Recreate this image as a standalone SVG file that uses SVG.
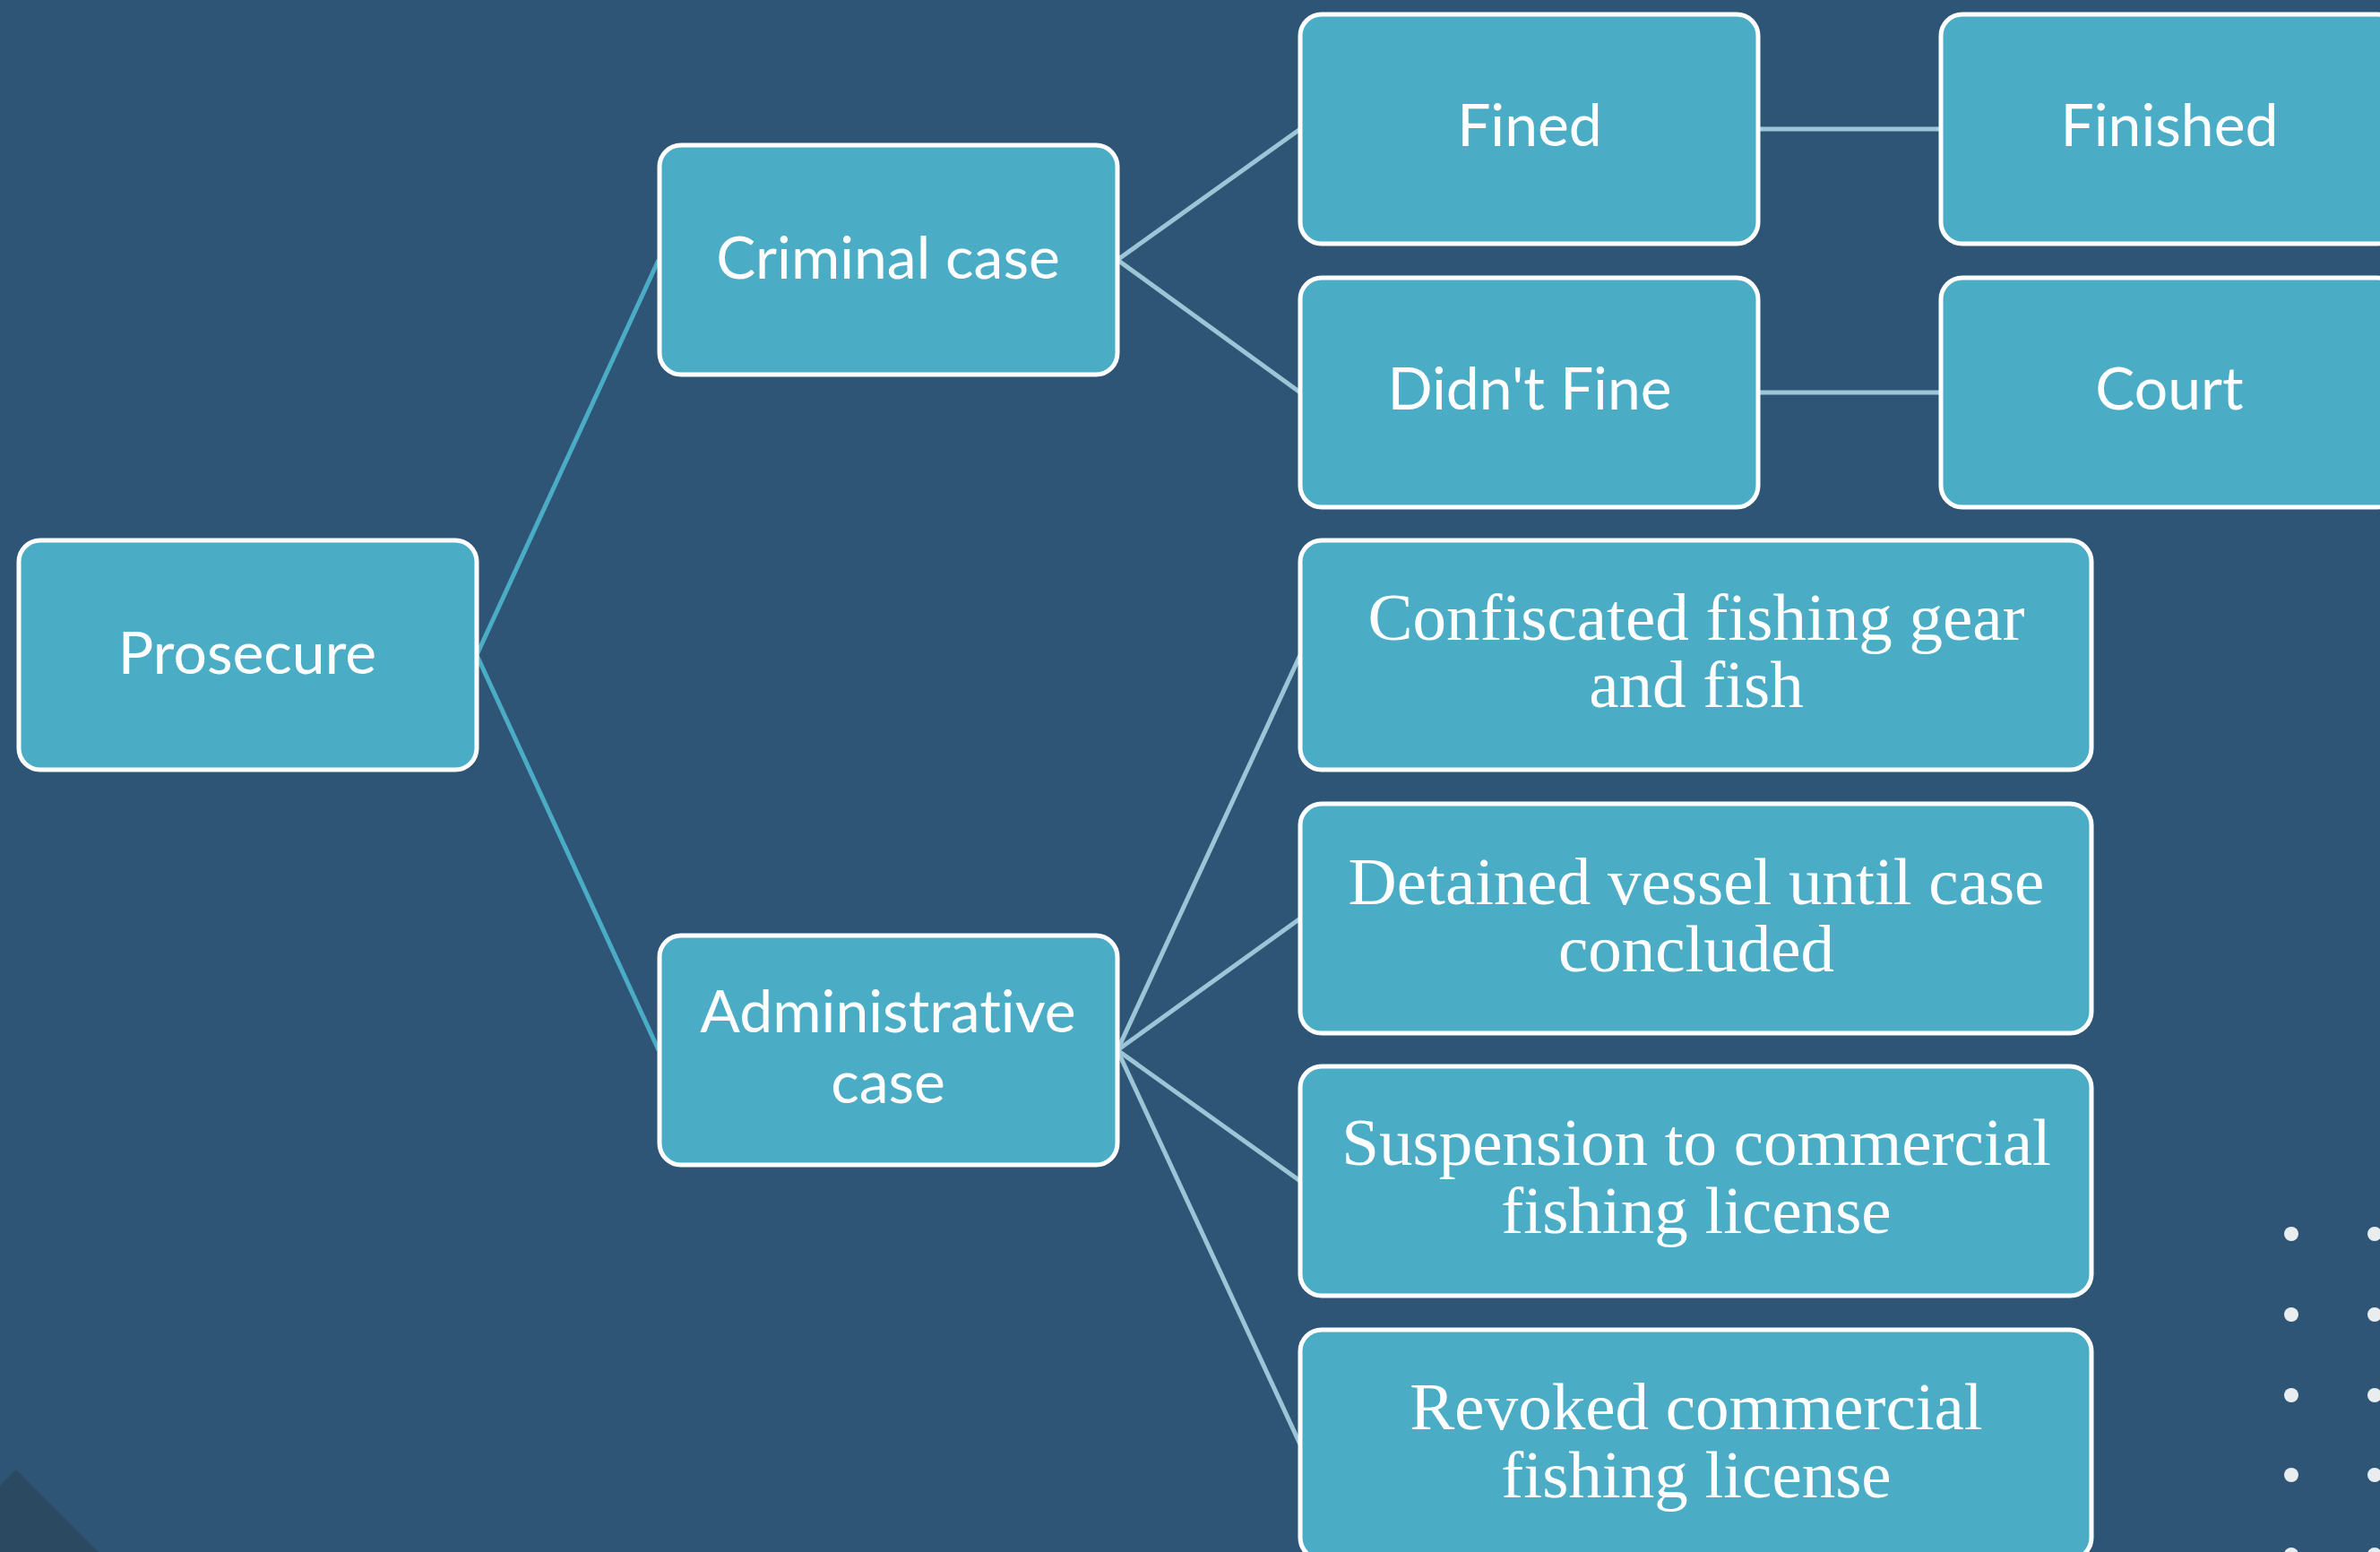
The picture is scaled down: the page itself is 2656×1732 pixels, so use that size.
<svg xmlns="http://www.w3.org/2000/svg" width="2656" height="1732" viewBox="0 0 2656 1732">
<style>
.box{fill:#4BACC6;stroke:#FFFFFF;stroke-width:5}
.sans{font-family:Lato,"Open Sans","Liberation Sans",sans-serif;font-size:66px;fill:#FFFFFF;text-anchor:middle;font-variant-ligatures:none}
.serif{font-family:"Liberation Serif","DejaVu Serif",serif;font-size:75px;fill:#FFFFFF;text-anchor:middle}
.c1{stroke:#4BACC6;stroke-width:5;fill:none}
.c2{stroke:#9CC6D8;stroke-width:5;fill:none}
.dot{fill:#E9EDEF}
</style>
<rect x="0" y="0" width="2656" height="1732" fill="#2E5575"/>
<polygon points="0,1658 18,1640 110,1732 0,1732" fill="#2B4A62"/>
<g id="dots">
<circle class="dot" cx="2557" cy="1377" r="8"/>
<circle class="dot" cx="2650" cy="1377" r="8"/>
<circle class="dot" cx="2557" cy="1467" r="8"/>
<circle class="dot" cx="2650" cy="1467" r="8"/>
<circle class="dot" cx="2557" cy="1557" r="8"/>
<circle class="dot" cx="2650" cy="1557" r="8"/>
<circle class="dot" cx="2557" cy="1646" r="8"/>
<circle class="dot" cx="2650" cy="1646" r="8"/>
<circle class="dot" cx="2557" cy="1735" r="8"/>
<circle class="dot" cx="2650" cy="1735" r="8"/>
</g>
<g id="connectors">
<line class="c1" x1="532" y1="731" x2="735" y2="290"/>
<line class="c1" x1="532" y1="731" x2="735" y2="1172"/>
<line class="c2" x1="1247" y1="290" x2="1451" y2="144"/>
<line class="c2" x1="1247" y1="290" x2="1451" y2="438"/>
<line class="c2" x1="1962" y1="144" x2="2166" y2="144"/>
<line class="c2" x1="1962" y1="438" x2="2166" y2="438"/>
<line class="c2" x1="1247" y1="1172" x2="1451" y2="731"/>
<line class="c2" x1="1247" y1="1172" x2="1451" y2="1025"/>
<line class="c2" x1="1247" y1="1172" x2="1451" y2="1318"/>
<line class="c2" x1="1247" y1="1172" x2="1451" y2="1612"/>
</g>
<g id="prosecure">
<rect class="box" x="21" y="603" width="511" height="256" rx="24"/>
<text class="sans" x="276" y="752">Prosecure</text>
</g>
<g id="criminal">
<rect class="box" x="736" y="162" width="511" height="256" rx="24"/>
<text class="sans" x="991" y="311">Criminal case</text>
</g>
<g id="administrative">
<rect class="box" x="736" y="1044" width="511" height="256" rx="24"/>
<text class="sans" x="991" y="1152">Administrative</text>
<text class="sans" x="991" y="1231">case</text>
</g>
<g id="fined">
<rect class="box" x="1451" y="16" width="511" height="256" rx="24"/>
<text class="sans" x="1707" y="163">Fined</text>
</g>
<g id="didntfine">
<rect class="box" x="1451" y="310" width="511" height="256" rx="24"/>
<text class="sans" x="1707" y="457">Didn't Fine</text>
</g>
<g id="finished">
<rect class="box" x="2166" y="16" width="511" height="256" rx="24"/>
<text class="sans" x="2421" y="163">Finished</text>
</g>
<g id="court">
<rect class="box" x="2166" y="310" width="511" height="256" rx="24"/>
<text class="sans" x="2421" y="457">Court</text>
</g>
<g id="confiscated">
<rect class="box" x="1451" y="603" width="883" height="256" rx="24"/>
<text class="serif" x="1893" y="714">Confiscated fishing gear</text>
<text class="serif" x="1893" y="789">and fish</text>
</g>
<g id="detained">
<rect class="box" x="1451" y="897" width="883" height="256" rx="24"/>
<text class="serif" x="1893" y="1009">Detained vessel until case</text>
<text class="serif" x="1893" y="1084">concluded</text>
</g>
<g id="suspension">
<rect class="box" x="1451" y="1190" width="883" height="256" rx="24"/>
<text class="serif" x="1893" y="1300">Suspension to commercial</text>
<text class="serif" x="1893" y="1376">fishing license</text>
</g>
<g id="revoked">
<rect class="box" x="1451" y="1484" width="883" height="256" rx="24"/>
<text class="serif" x="1893" y="1595">Revoked commercial</text>
<text class="serif" x="1893" y="1671">fishing license</text>
</g>
</svg>
